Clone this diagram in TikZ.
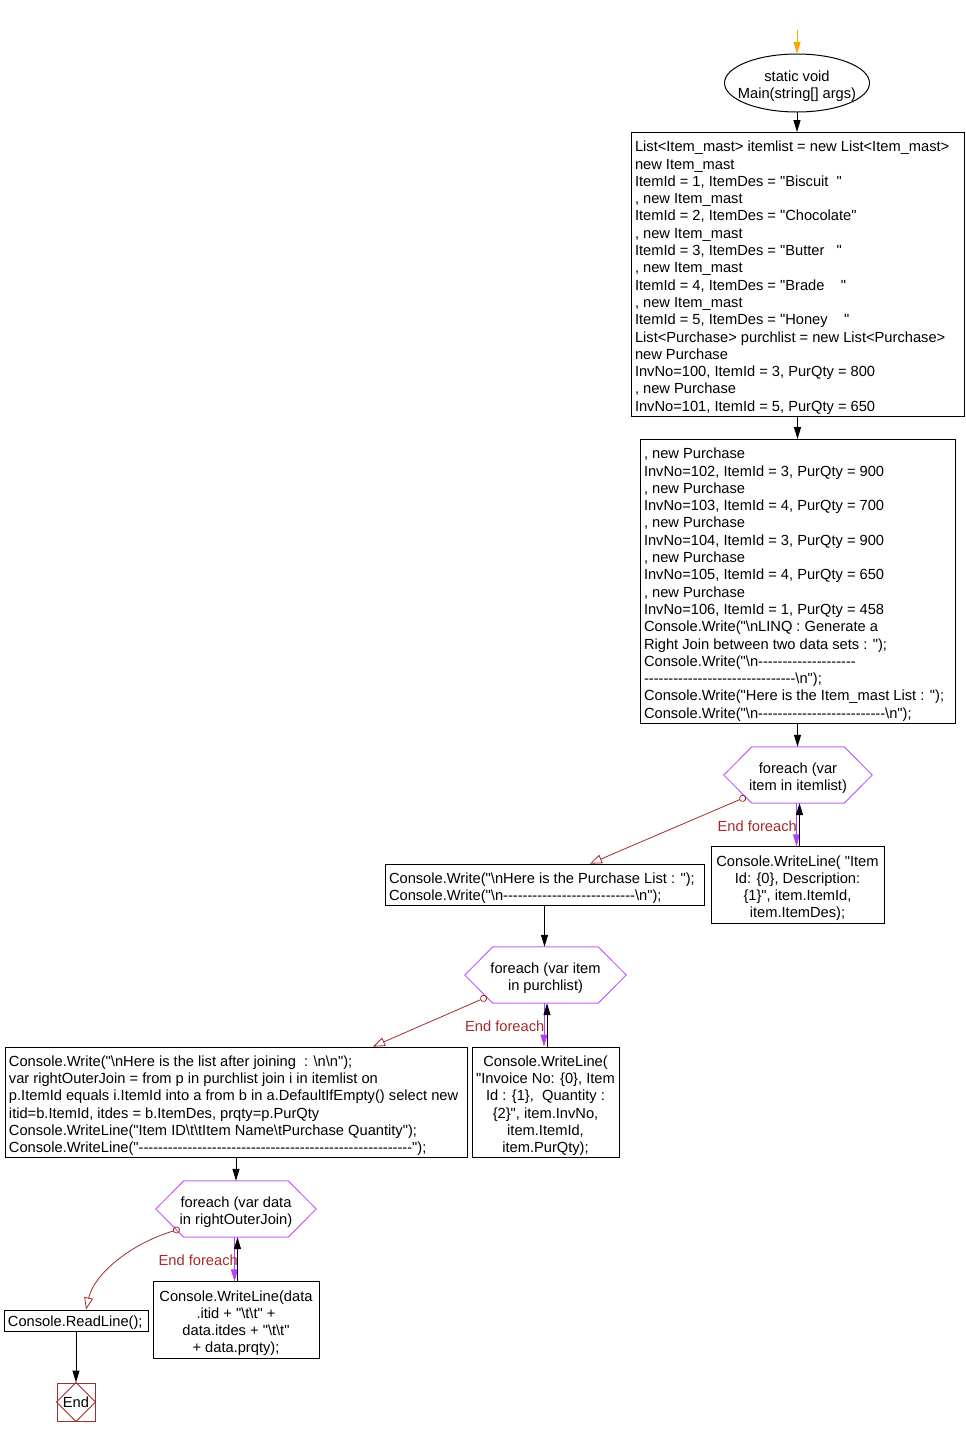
\documentclass[tikz,border=0pt]{standalone}
\usepackage{fontspec}
\setmainfont{Liberation Sans}
\newfontfamily\codefont{Liberation Sans}
\usetikzlibrary{arrows.meta,shapes.geometric,calc}
\ExplSyntaxOn
\cs_new:Npn \mydashes #1 { \prg_replicate:nn {#1} { -\kern0pt } }
\ExplSyntaxOff
\newcommand{\bsl}{\textbackslash}
\newcommand{\tb}[2]{\raisebox{0pt}[\dimexpr\height+7pt\relax][\depth]{\begin{tabular}{@{}#1@{}}#2\end{tabular}}}
\newcommand{\lbox}[2]{\makebox[#1][l]{\tb{l}{#2}}}
\newcommand{\hexdraw}[1]{\draw[hexline] (#1.west) -- ([xshift=28pt]#1.north west) -- ([xshift=-28pt]#1.north east) -- (#1.east) -- ([xshift=-28pt]#1.south east) -- ([xshift=28pt]#1.south west) -- cycle;}
\definecolor{hexc}{RGB}{191,95,255}
\definecolor{purp}{RGB}{178,64,255}
\definecolor{dred}{RGB}{165,42,42}
\definecolor{orng}{RGB}{255,165,0}
\begin{document}
\begin{tikzpicture}[x=1pt,y=-1pt,
  every node/.style={font=\codefont\fontsize{14.67}{17.3}\selectfont, inner sep=0pt},
  box/.style={draw, line width=1pt, rectangle},
  hexnode/.style={rectangle, minimum height=56pt},
  hexline/.style={draw=hexc, line width=1pt},
  arr/.style={draw=black, line width=1pt, -{Triangle[length=12pt,width=7pt]}},
  parr/.style={draw=purp, line width=1pt, -{Triangle[length=12pt,width=7pt]}},
  oarr/.style={draw=orng, line width=1pt, -{Triangle[length=12pt,width=7pt]}},
  exitarr/.style={draw=dred, line width=0.8pt, {Circle[open,length=7pt,width=7pt]}-{Triangle[open,length=12pt,width=9pt]}},
  lbl/.style={text=dred, anchor=east}
]
\useasboundingbox (0,0) rectangle (966,1436);

\coordinate (start) at (797,30);
\node[minimum width=145pt, minimum height=58pt] (e0) at (797,83) {\tb{c}{static void\\Main(string[] args)}};
\draw[line width=1pt] (e0.center) ellipse [x radius=72.5pt, y radius=29pt];

\node[box, minimum width=333pt, minimum height=283pt] (b1) at (797.5,274.5) {\lbox{325pt}{%
List<Item\_mast> itemlist = new List<Item\_mast>\\
new Item\_mast\\
ItemId = 1, ItemDes = "Biscuit\ \ "\\
, new Item\_mast\\
ItemId = 2, ItemDes = "Chocolate"\\
, new Item\_mast\\
ItemId = 3, ItemDes = "Butter\ \ \ "\\
, new Item\_mast\\
ItemId = 4, ItemDes = "Brade\ \ \ \ "\\
, new Item\_mast\\
ItemId = 5, ItemDes = "Honey\ \ \ \ "\\
List<Purchase> purchlist = new List<Purchase>\\
new Purchase\\
InvNo=100, ItemId = 3, PurQty = 800\\
, new Purchase\\
InvNo=101, ItemId = 5, PurQty = 650}};

\node[box, minimum width=315pt, minimum height=283pt] (b2) at (797.5,581.5) {\lbox{307pt}{%
, new Purchase\\
InvNo=102, ItemId = 3, PurQty = 900\\
, new Purchase\\
InvNo=103, ItemId = 4, PurQty = 700\\
, new Purchase\\
InvNo=104, ItemId = 3, PurQty = 900\\
, new Purchase\\
InvNo=105, ItemId = 4, PurQty = 650\\
, new Purchase\\
InvNo=106, ItemId = 1, PurQty = 458\\
Console.Write("\bsl nLINQ : Generate a\\
Right Join between two data sets : ");\\
Console.Write("\bsl n\mydashes{20}\\
\mydashes{31}\bsl n");\\
Console.Write("Here is the Item\_mast List : ");\\
Console.Write("\bsl n\mydashes{26}\bsl n");}};

\node[hexnode, minimum width=148pt] (h1) at (798,775) {\tb{c}{foreach (var\\item in itemlist)}};
\hexdraw{h1}
\node[box, minimum width=173pt, minimum height=74pt] (l1) at (797.5,885) {\tb{c}{Console.WriteLine( "Item\\Id: \{0\}, Description:\\\{1\}", item.ItemId,\\item.ItemDes);}};

\node[box, minimum width=319pt, minimum height=40pt] (b3) at (544.5,885) {\lbox{311pt}{%
Console.Write("\bsl nHere is the Purchase List : ");\\
Console.Write("\bsl n\mydashes{27}\bsl n");}};

\node[hexnode, minimum width=161pt] (h2) at (545.5,975) {\tb{c}{foreach (var item\\in purchlist)}};
\hexdraw{h2}
\node[box, minimum width=147pt, minimum height=109pt] (l2) at (545.5,1102.5) {\tb{c}{Console.WriteLine(\\"Invoice No: \{0\}, Item\\Id : \{1\},~ Quantity :\\\{2\}", item.InvNo,\\item.ItemId,\\item.PurQty);}};

\node[box, minimum width=462pt, minimum height=109pt] (b4) at (236,1102.5) {\lbox{454pt}{%
Console.Write("\bsl nHere is the list after joining~ : \bsl n\bsl n");\\
var rightOuterJoin = from p in purchlist join i in itemlist on\\
p.ItemId equals i.ItemId into a from b in a.DefaultIfEmpty() select new\\
itid=b.ItemId, itdes = b.ItemDes, prqty=p.PurQty\\
Console.WriteLine("Item ID\bsl t\bsl tItem Name\bsl tPurchase Quantity");\\
Console.WriteLine("\mydashes{56}");}};

\node[hexnode, minimum width=160pt] (h3) at (236,1209) {\tb{c}{foreach (var data\\in rightOuterJoin)}};
\hexdraw{h3}
\node[box, minimum width=166pt, minimum height=74pt] (l3) at (236,1320) {\tb{c}{Console.WriteLine(data\\.itid + "\bsl t\bsl t" +\\data.itdes + "\bsl t\bsl t"\\+ data.prqty);}};

\node[box, minimum width=144pt, minimum height=21pt] (b5) at (76,1320.5) {\makebox[136pt][l]{\raisebox{0pt}[\dimexpr\height+4pt\relax][\depth]{Console.ReadLine();}}};
\node[draw=dred, line width=1pt, minimum width=38pt, minimum height=38pt] (end) at (76,1402) {End};
\draw[dred, line width=0.8pt] (end.north) -- (end.east) -- (end.south) -- (end.west) -- cycle;

% connectors
\draw[oarr] (start) -- (e0.north);
\draw[arr] (e0.south) -- (e0.south |- b1.north);
\draw[arr] (b1.south) -- (b1.south |- b2.north);
\draw[arr] (b2.south) -- (b2.south |- h1.north);

\draw[parr] ([xshift=-1.5pt]h1.south) -- ([xshift=-1.5pt]h1.south |- l1.north);
\draw[arr] ([xshift=1.5pt]h1.south |- l1.north) -- ([xshift=1.5pt]h1.south);
\node[lbl] (lab1) at ([xshift=-1pt,yshift=-23pt]h1.south) {End foreach};
\draw[exitarr] ([xshift=22pt,yshift=-22pt]h1.west) -- ([xshift=45.5pt]b3.north);

\draw[arr] (b3.south) -- (b3.south |- h2.north);
\draw[parr] ([xshift=-1.5pt]h2.south) -- ([xshift=-1.5pt]h2.south |- l2.north);
\draw[arr] ([xshift=1.5pt]h2.south |- l2.north) -- ([xshift=1.5pt]h2.south);
\node[lbl] (lab2) at ([xshift=-1pt,yshift=-23pt]h2.south) {End foreach};
\draw[exitarr] ([xshift=22pt,yshift=-22pt]h2.west) -- ([xshift=137pt]b4.north);

\draw[arr] (b4.south) -- (b4.south |- h3.north);
\draw[parr] ([xshift=-1.5pt]h3.south) -- ([xshift=-1.5pt]h3.south |- l3.north);
\draw[arr] ([xshift=1.5pt]h3.south |- l3.north) -- ([xshift=1.5pt]h3.south);
\node[lbl] (lab3) at ([xshift=2pt,yshift=-23pt]h3.south) {End foreach};
\draw[exitarr] ([xshift=24pt,yshift=-20pt]h3.west) .. controls +(-50,15) and +(8,-35) .. ([xshift=10pt]b5.north);

\draw[arr] (b5.south) -- (end.north);
\end{tikzpicture}
\end{document}
